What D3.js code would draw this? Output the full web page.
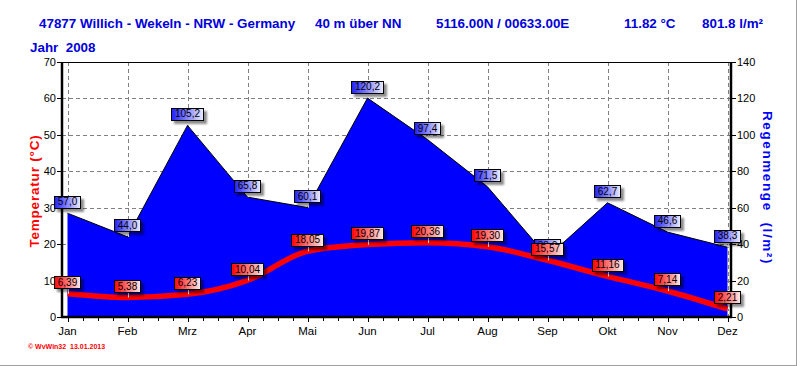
<!DOCTYPE html>
<html><head><meta charset="utf-8">
<script src="https://cdn.jsdelivr.net/npm/d3@7"></script>
<style>body{margin:0;background:#fff}svg{display:block;font-family:Arial,"Liberation Sans",sans-serif}</style>
</head><body><svg id="c" width="800" height="366"></svg>
<script>
const months=["Jan","Feb","Mrz","Apr","Mai","Jun","Jul","Aug","Sep","Okt","Nov","Dez"];
const temperature=[6.39,5.38,6.23,10.04,18.05,19.87,20.36,19.30,15.57,11.16,7.14,2.21];
const rain=[57.0,44.0,105.2,65.8,60.1,120.2,97.4,71.5,33.0,62.7,46.6,38.3];
const tempTicks=[0,10,20,30,40,50,60,70];
const rainTicks=[0,20,40,60,80,100,120,140];
const headerTexts=[
  {t:"47877 Willich - Wekeln - NRW - Germany",x:39},
  {t:"40 m über NN",x:315},
  {t:"5116.00N / 00633.00E",x:436},
  {t:"11.82 °C",x:624},
  {t:"801.8 l/m²",x:702}
];

const svg=d3.select("#c");
const L=62,R=731,T=62,B=317;
const x=d3.scalePoint().domain(months).range([67.5,727.5]);
const xi=d3.scaleLinear().domain([0,11]).range([67.5,727.5]);
const yT=d3.scaleLinear().domain([0,70]).range([B,T]);
const yR=d3.scaleLinear().domain([0,140]).range([B,T]);

const defs=svg.append("defs");
function grad(id,c1,c2){
  const g=defs.append("linearGradient").attr("id",id).attr("x1","0").attr("x2","1").attr("y1","0").attr("y2","0");
  g.append("stop").attr("offset","0").attr("stop-color",c1);
  g.append("stop").attr("offset","1").attr("stop-color",c2);
}
grad("gb","#2020ff","#ececff");
grad("gr","#ff0000","#ffeaea");
const f=defs.append("filter").attr("id","sh").attr("x","-30%").attr("y","-30%").attr("width","170%").attr("height","190%");
f.append("feDropShadow").attr("dx",3).attr("dy",3).attr("stdDeviation",1.3).attr("flood-color","#000").attr("flood-opacity",0.45);

// frame (gray right & bottom)
svg.append("line").attr("x1",0).attr("x2",797).attr("y1",365.5).attr("y2",365.5).attr("stroke","#a0a0a0");
svg.append("line").attr("x1",796.5).attr("x2",796.5).attr("y1",0).attr("y2",366).attr("stroke","#a0a0a0");

// header
svg.selectAll("text.h").data(headerTexts).join("text").attr("class","h")
  .attr("x",d=>d.x).attr("y",28).attr("font-size","13.4px").attr("font-weight","bold").attr("fill","#0000dd").text(d=>d.t);
svg.append("text").attr("x",30).attr("y",52).attr("font-size","13.4px").attr("font-weight","bold").attr("fill","#0000dd").attr("xml:space","preserve").text("Jahr  2008");

// grid
const grid=svg.append("g").attr("stroke","#808080").attr("stroke-dasharray","4,3").attr("stroke-width",1);
grid.selectAll("line.v").data(months).join("line").attr("class","v")
  .attr("x1",d=>Math.round(x(d))+0.5).attr("x2",d=>Math.round(x(d))+0.5).attr("y1",T).attr("y2",B);
grid.selectAll("line.hz").data(tempTicks.filter(d=>d>0&&d<70)).join("line").attr("class","hz")
  .attr("x1",L).attr("x2",R).attr("y1",d=>Math.round(yT(d))+0.5).attr("y2",d=>Math.round(yT(d))+0.5);

// rain area
const area=d3.area().x((d,i)=>x(months[i])).y0(B).y1(d=>yR(d)).curve(d3.curveLinear);
svg.append("path").datum(rain).attr("d",area).attr("fill","#0000ff");
svg.append("path").datum(rain).attr("d",d3.line().x((d,i)=>x(months[i])).y(d=>yR(d))).attr("fill","none").attr("stroke","#000").attr("stroke-width",1);

// temperature line
svg.append("path").datum(temperature)
  .attr("d",d3.line().x((d,i)=>x(months[i])).y(d=>yT(d)).curve(d3.curveMonotoneX))
  .attr("fill","none").attr("stroke","#ff0000").attr("stroke-width",5.5);

// axes
svg.append("line").attr("x1",L).attr("x2",R).attr("y1",T+0.5).attr("y2",T+0.5).attr("stroke","#000");
const ax=svg.append("g").attr("stroke","#000");
ax.append("line").attr("x1",L).attr("x2",L).attr("y1",T).attr("y2",B+1).attr("stroke-width",2.5);
ax.append("line").attr("x1",R).attr("x2",R).attr("y1",T).attr("y2",B+1).attr("stroke-width",2.5);
ax.append("line").attr("x1",L-1).attr("x2",R+1).attr("y1",B).attr("y2",B).attr("stroke-width",2.5);
ax.selectAll("line.lt").data(tempTicks).join("line").attr("class","lt")
  .attr("x1",L-5).attr("x2",L).attr("y1",d=>Math.round(yT(d))+0.5).attr("y2",d=>Math.round(yT(d))+0.5);
ax.selectAll("line.rt").data(rainTicks).join("line").attr("class","rt")
  .attr("x1",R).attr("x2",R+5).attr("y1",d=>Math.round(yR(d))+0.5).attr("y2",d=>Math.round(yR(d))+0.5);
ax.selectAll("line.bt").data(d3.range(0,11.001,0.25)).join("line").attr("class","bt")
  .attr("x1",d=>Math.round(xi(d))+0.5).attr("x2",d=>Math.round(xi(d))+0.5).attr("y1",B).attr("y2",d=>B+(d%1===0?5:4));

svg.selectAll("text.lt").data(tempTicks).join("text").attr("class","lt")
  .attr("x",56).attr("y",d=>yT(d)).attr("dy","0.36em").attr("text-anchor","end").attr("font-size","11px").text(d=>d);
svg.selectAll("text.rt").data(rainTicks).join("text").attr("class","rt")
  .attr("x",737).attr("y",d=>yR(d)).attr("dy","0.36em").attr("font-size","11px").text(d=>d);
svg.selectAll("text.mo").data(months).join("text").attr("class","mo")
  .attr("x",d=>x(d)).attr("y",335).attr("text-anchor","middle").attr("font-size","11.5px").text(d=>d);

// axis titles
svg.append("text").attr("transform","translate(39,191) rotate(-90)").attr("text-anchor","middle")
  .attr("font-size","13.5px").attr("font-weight","bold").attr("fill","#ff0000").attr("letter-spacing","0.8px").text("Temperatur (°C)");
svg.append("text").attr("transform","translate(763,188) rotate(90)").attr("text-anchor","middle")
  .attr("font-size","13.5px").attr("font-weight","bold").attr("fill","#0000ff").attr("letter-spacing","1.6px").attr("xml:space","preserve").text("Regenmenge  (l/m²)");

// copyright
svg.append("text").attr("x",28).attr("y",349).attr("font-size","7px").attr("font-weight","bold").attr("fill","#ff0000").attr("xml:space","preserve").text("© WvWin32  13.01.2013");

// labels
function labels(data,yScale,fmt,gid){
  const g=svg.append("g");
  data.forEach((v,i)=>{
    const px=x(months[i]), py=yScale(v);
    const cy=py-11.5;
    const lg=g.append("g");
    lg.append("line").attr("x1",Math.round(px)+0.5).attr("x2",Math.round(px)+0.5).attr("y1",cy+6).attr("y2",py).attr("stroke","#fff").attr("stroke-width",1);
    const r=lg.append("rect").attr("fill","url(#"+gid+")").attr("stroke","#000").attr("stroke-width",1).attr("filter","url(#sh)");
    const t=lg.append("text").attr("x",px).attr("y",cy).attr("dy","0.36em").attr("text-anchor","middle").attr("font-size","10px").attr("fill","#000").text(fmt(v));
    const w=t.node().getComputedTextLength()+7;
    r.attr("x",Math.round(px-w/2)+0.5).attr("y",Math.round(cy-6)+0.5).attr("width",Math.round(w)).attr("height",12);
  });
}
labels(rain,yR,v=>d3.format(".1f")(v).replace(".",","),"gb");
labels(temperature,yT,v=>d3.format(".2f")(v).replace(".",","),"gr");
</script></body></html>
